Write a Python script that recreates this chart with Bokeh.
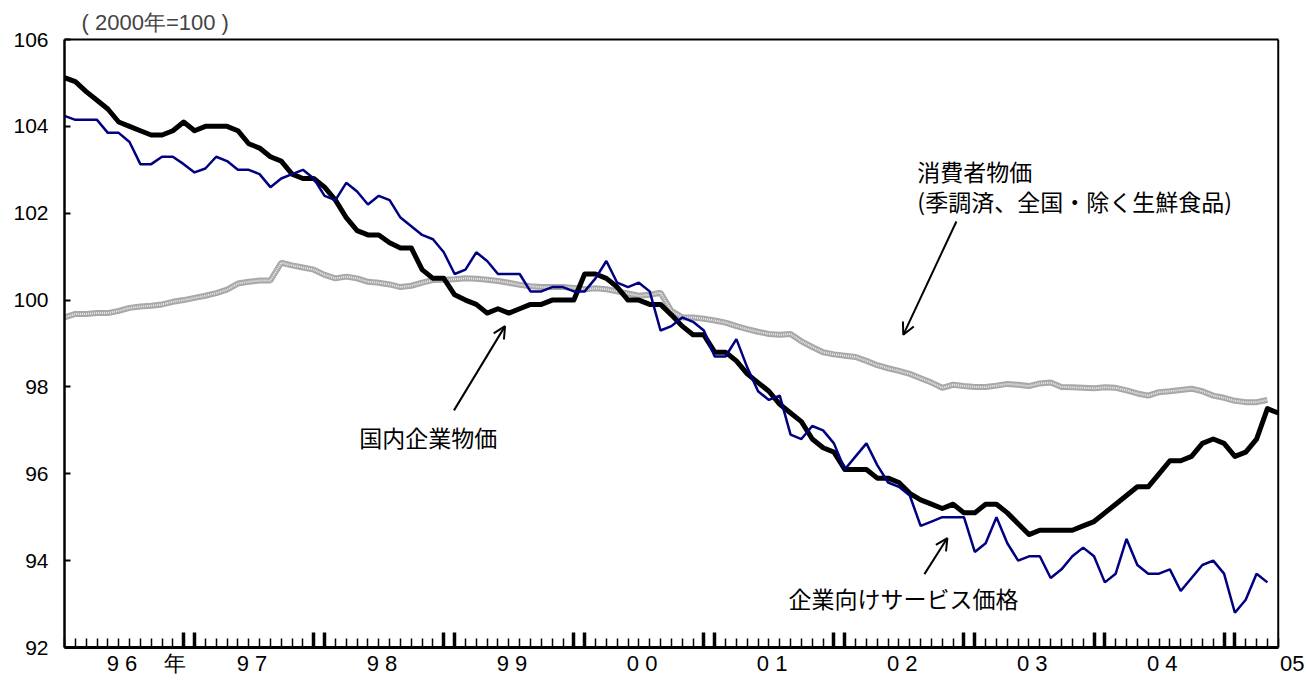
import numpy as np
from bokeh.plotting import figure
from bokeh.models import Range1d, FixedTicker, Label, Arrow, OpenHead, LinearAxis, Span
from bokeh.embed import file_html
from bokeh.resources import INLINE

# monthly series, index 0 = 1996-01
start_year = 1996
cgpi = [105.12, 105.03, 104.8, 104.6, 104.4, 104.1, 104.0, 103.9, 103.8, 103.8,
        103.9, 104.1, 103.9, 104.0, 104.0, 104.0, 103.9, 103.6, 103.5, 103.3,
        103.2, 102.9, 102.8, 102.8, 102.6, 102.3, 101.9, 101.6, 101.5, 101.5,
        101.32, 101.2, 101.2, 100.7, 100.5, 100.5, 100.12, 100.0, 99.9, 99.7,
        99.8, 99.7, 99.8, 99.9, 99.9, 100.0, 100.0, 100.0, 100.6, 100.6,
        100.5, 100.3, 100.0, 100.0, 99.9, 99.9, 99.66, 99.4, 99.2, 99.2,
        98.8, 98.8, 98.6, 98.3, 98.1, 97.9, 97.6, 97.4, 97.2, 96.8,
        96.6, 96.5, 96.1, 96.1, 96.1, 95.9, 95.9, 95.8, 95.55, 95.4,
        95.3, 95.2, 95.3, 95.1, 95.1, 95.3, 95.3, 95.1, 94.85, 94.6,
        94.7, 94.7, 94.7, 94.7, 94.8, 94.9, 95.1, 95.3, 95.5, 95.7,
        95.7, 96.0, 96.3, 96.3, 96.4, 96.7, 96.8, 96.7, 96.4, 96.5,
        96.8, 97.5, 97.4]
cspi = [104.24, 104.15, 104.15, 104.15, 103.85, 103.85, 103.64, 103.13, 103.13, 103.3,
        103.3, 103.13, 102.94, 103.03, 103.3, 103.2, 103.0, 103.0, 102.9, 102.6,
        102.8, 102.9, 103.0, 102.8, 102.4, 102.3, 102.7, 102.5, 102.2, 102.4,
        102.3, 101.9, 101.7, 101.5, 101.4, 101.1, 100.6, 100.7, 101.1, 100.9,
        100.6, 100.6, 100.6, 100.2, 100.2, 100.3, 100.3, 100.2, 100.2, 100.5,
        100.9, 100.4, 100.3, 100.4, 100.2, 99.3, 99.4, 99.6, 99.5, 99.3,
        98.7, 98.7, 99.1, 98.45, 97.9, 97.7, 97.8, 96.9, 96.8, 97.1,
        97.0, 96.7, 96.1, 96.4, 96.7, 96.2, 95.8, 95.7, 95.5, 94.8,
        94.9, 95.0, 95.0, 95.0, 94.2, 94.4, 95.0, 94.4, 94.0, 94.1,
        94.1, 93.6, 93.8, 94.1, 94.3, 94.1, 93.5, 93.7, 94.5, 93.9,
        93.7, 93.7, 93.8, 93.3, 93.6, 93.9, 94.0, 93.7, 92.8, 93.1,
        93.7, 93.5]
cpi = [99.6, 99.68, 99.68, 99.7, 99.7, 99.75, 99.82, 99.85, 99.87, 99.9,
       99.96, 100.0, 100.05, 100.1, 100.16, 100.24, 100.38, 100.42, 100.45, 100.45,
       100.86, 100.8, 100.75, 100.7, 100.58, 100.5, 100.54, 100.5, 100.42, 100.4,
       100.36, 100.3, 100.33, 100.4, 100.46, 100.47, 100.48, 100.5, 100.49, 100.47,
       100.44, 100.4, 100.35, 100.32, 100.3, 100.3, 100.3, 100.28, 100.25, 100.27,
       100.25, 100.2, 100.15, 100.1, 100.12, 100.17, 99.75, 99.6, 99.6, 99.57,
       99.53, 99.48, 99.4, 99.33, 99.27, 99.22, 99.2, 99.22, 99.05, 98.92,
       98.8, 98.75, 98.72, 98.69, 98.6, 98.5, 98.43, 98.37, 98.3, 98.2,
       98.1, 97.98, 98.05, 98.02, 98.0, 98.0, 98.03, 98.07, 98.05, 98.02,
       98.08, 98.1, 98.0, 97.99, 97.98, 97.97, 97.99, 97.98, 97.92, 97.85,
       97.8, 97.88, 97.9, 97.93, 97.96, 97.9, 97.8, 97.75, 97.68, 97.65,
       97.65, 97.7]
year_labels = ["9 6", "9 7", "9 8", "9 9", "0 0", "0 1", "0 2", "0 3", "0 4", "05"]
y_ticks = [92, 94, 96, 98, 100, 102, 104, 106]

n_last = len(cgpi) - 1          # last month index (frame's right border)
x_cgpi = np.arange(len(cgpi))
x_cspi = np.arange(len(cspi))
x_cpi = np.arange(len(cpi))

p = figure(width=1304, height=686, output_backend="svg", toolbar_location=None,
           x_range=Range1d(0, n_last + 1.5), y_range=Range1d(92, 106),
           min_border_left=64, min_border_right=10, min_border_top=39, min_border_bottom=39,
           x_axis_location=None, y_axis_location=None)
p.grid.visible = False
p.outline_line_color = None
p.background_fill_color = "white"
p.border_fill_color = "white"

p.title.text = "( 2000年=100 )"
p.title.align = "left"
p.title.offset = 17
p.title.text_font = "Liberation Sans"
p.title.text_font_style = "normal"
p.title.text_font_size = "22px"
p.title.standoff = 9

# top border (axis without ticks, limited to the data span)
top = LinearAxis(bounds=(0, n_last), ticker=FixedTicker(ticks=[]))
top.axis_line_width = 2
top.major_tick_line_color = None
top.minor_tick_line_color = None
top.major_label_text_font_size = "0px"
top.major_label_standoff = 0
p.add_layout(top, "above")

# right border
p.add_layout(Span(location=n_last, dimension="height", line_color="black", line_width=2))

# y axis
yax = LinearAxis(ticker=FixedTicker(ticks=y_ticks))
yax.axis_line_width = 2.5
yax.major_tick_in = 6
yax.major_tick_out = 0
yax.major_tick_line_width = 2
yax.minor_tick_line_color = None
yax.major_label_text_font = "Liberation Sans"
yax.major_label_text_font_size = "21px"
yax.major_label_text_color = "black"
yax.major_label_standoff = 16
p.add_layout(yax, "left")

# x axis: monthly ticks, thick double ticks at Dec/Jan
months = list(range(len(cgpi)))
dec_jan = [m for m in months if m % 12 in (11, 0) and m > 0]
xax = LinearAxis(bounds=(0, n_last), ticker=FixedTicker(ticks=dec_jan, minor_ticks=months))
xax.axis_line_width = 3
xax.major_tick_in = 15
xax.major_tick_out = 0
xax.major_tick_line_width = 3.5
xax.minor_tick_in = 9
xax.minor_tick_out = 0
xax.minor_tick_line_width = 1.5
xax.major_label_text_font_size = "0px"
xax.major_label_overrides = {m: "" for m in dec_jan}
xax.major_label_standoff = 0
p.add_layout(xax, "below")

# year label axis
lab_pos = [12 * k + 5.3 for k in range(len(year_labels))]
nen_pos = 10.2
overrides = {pos: lab for pos, lab in zip(lab_pos, year_labels)}
overrides[nen_pos] = "年"
lax = LinearAxis(ticker=FixedTicker(ticks=lab_pos + [nen_pos]))
lax.axis_line_color = None
lax.major_tick_line_color = None
lax.minor_tick_line_color = None
lax.major_label_overrides = overrides
lax.major_label_text_font = "Liberation Sans"
lax.major_label_text_font_size = "22px"
lax.major_label_text_color = "black"
lax.major_label_standoff = -3
p.add_layout(lax, "below")

# series
p.line(x_cpi, cpi, line_color="#a8a8a8", line_width=6)
p.line(x_cpi, cpi, line_color="#ececec", line_width=2, line_dash="1 1")
p.line(x_cgpi, cgpi, line_color="black", line_width=5, line_join="round")
p.line(x_cspi, cspi, line_color="#000080", line_width=2.5)

ann_font = "Noto Sans CJK JP"
p.add_layout(Label(x=78.7, y=102.97, text="消費者物価", text_baseline="middle",
                   text_font=ann_font, text_font_size="23px", text_color="black"))
p.add_layout(Label(x=78.7, y=102.27, text="(季調済、全国・除く生鮮食品)", text_baseline="middle",
                   text_font=ann_font, text_font_size="23px", text_color="black"))
p.add_layout(Label(x=27.2, y=96.84, text="国内企業物価", text_baseline="middle",
                   text_font=ann_font, text_font_size="23px", text_color="black"))
p.add_layout(Label(x=66.8, y=93.13, text="企業向けサービス価格", text_baseline="middle",
                   text_font=ann_font, text_font_size="23px", text_color="black"))

def arrow(x0, y0, x1, y1):
    p.add_layout(Arrow(end=OpenHead(size=12, line_width=2, line_color="black"),
                       x_start=x0, y_start=y0, x_end=x1, y_end=y1,
                       line_width=2, line_color="black"))

arrow(82.3, 101.81, 77.4, 99.2)
arrow(35.94, 97.46, 40.65, 99.40)
arrow(79.35, 93.69, 81.47, 94.52)

open("out.html", "w").write(file_html(p, INLINE))
